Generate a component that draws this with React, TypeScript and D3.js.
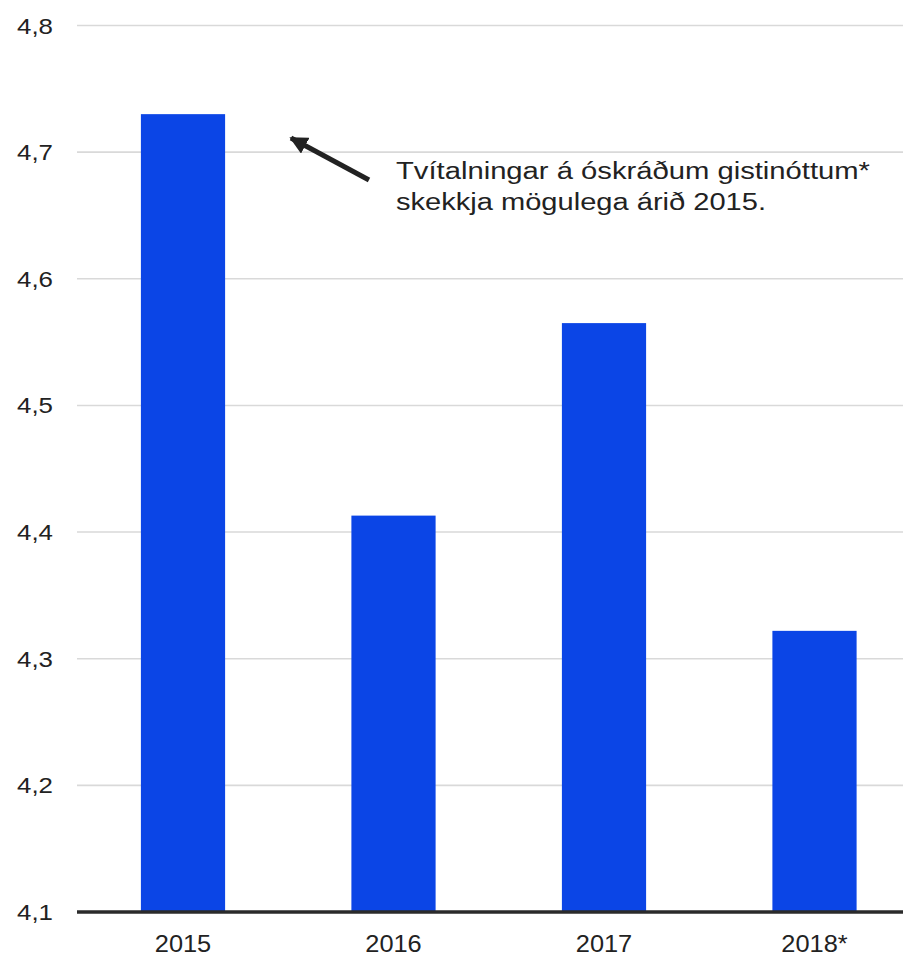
import React from "react";
import * as d3 from "d3";

const categories: string[] = ["2015", "2016", "2017", "2018*"];
const values: number[] = [4.73, 4.413, 4.565, 4.322];
const yTicks: number[] = [4.1, 4.2, 4.3, 4.4, 4.5, 4.6, 4.7, 4.8];
const annotationLines: string[] = [
  "Tvítalningar á óskráðum gistinóttum*",
  "skekkja mögulega árið 2015.",
];
const annotationWidths: number[] = [474, 370];

const W = 903;
const H = 957;
const FONT = "'Liberation Sans', Arial, sans-serif";

export default function App() {
  const y = d3.scaleLinear().domain([4.1, 4.8]).range([912, 25.5]);
  const x = d3
    .scaleBand<string>()
    .domain(categories)
    .range([77.75, 919.75])
    .paddingInner(0.6)
    .paddingOuter(0.3);
  const fmt = (v: number) => v.toFixed(1).replace(".", ",");

  return (
    <svg
      width={W}
      height={H}
      style={{ position: "absolute", left: 0, top: 0, background: "#fff" }}
      fontFamily={FONT}
    >
      <defs>
        <marker
          id="ah"
          viewBox="0 0 10 10"
          refX="9"
          refY="5"
          markerWidth="3.6"
          markerHeight="3.6"
          orient="auto"
        >
          <path d="M0,0 L10,5 L0,10 z" fill="#222" />
        </marker>
      </defs>
      {yTicks.map((t) => (
        <g key={t}>
          {t > 4.1 && (
            <line x1={77} x2={W} y1={y(t)} y2={y(t)} stroke="#d9d9d9" strokeWidth={1.6} />
          )}
          <text
            transform={`translate(53,${y(t) + 8}) scale(1.15,1)`}
            textAnchor="end"
            fontSize={22.5}
            fill="#222"
          >
            {fmt(t)}
          </text>
        </g>
      ))}
      {categories.map((c, i) => (
        <rect
          key={c}
          x={x(c)}
          y={y(values[i])}
          width={x.bandwidth()}
          height={y(4.1) - y(values[i])}
          fill="#0b45e6"
        />
      ))}
      <line x1={77} x2={W} y1={y(4.1)} y2={y(4.1)} stroke="#2b2b2b" strokeWidth={3.5} />
      {categories.map((c) => (
        <text
          key={c}
          transform={`translate(${(x(c) as number) + x.bandwidth() / 2},952) scale(1.08,1)`}
          textAnchor="middle"
          fontSize={23.5}
          fill="#222"
        >
          {c}
        </text>
      ))}
      <line
        x1={369}
        y1={180}
        x2={291}
        y2={138}
        stroke="#222"
        strokeWidth={5}
        markerEnd="url(#ah)"
      />
      {annotationLines.map((l, i) => (
        <text
          key={i}
          x={396}
          y={179 + i * 31}
          fontSize={23.5}
          fill="#222"
          textLength={annotationWidths[i]}
          lengthAdjust="spacingAndGlyphs"
        >
          {l}
        </text>
      ))}
    </svg>
  );
}
